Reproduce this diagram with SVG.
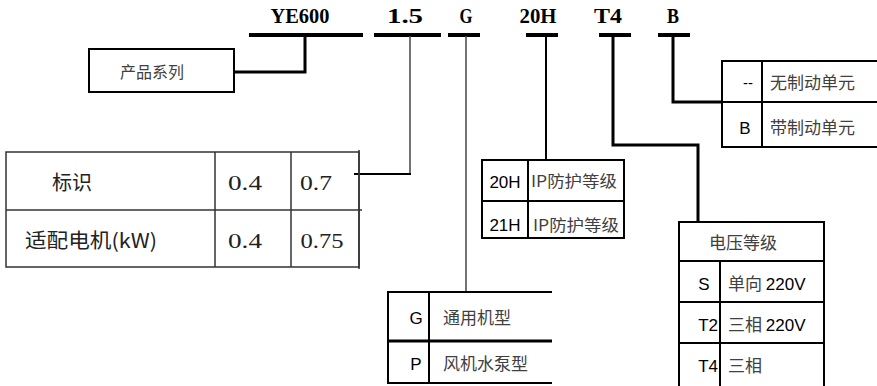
<svg xmlns="http://www.w3.org/2000/svg" width="877" height="386" viewBox="0 0 877 386">
<style>
.hdr{font-family:"Liberation Serif","Noto Sans CJK SC",serif;font-size:22px;font-weight:bold;fill:#000;text-anchor:middle}
.bar{stroke:#000;stroke-width:4;fill:none}
.thick{stroke:#000;stroke-width:3;fill:none}
.mid{stroke:#000;stroke-width:2;fill:none}
.thin{stroke:#444;stroke-width:1.5;fill:none}
.tb{stroke:#000;stroke-width:2;fill:none}
.tl{stroke:#333;stroke-width:1.5;fill:none}
.cn{font-family:"Noto Sans CJK SC",sans-serif;font-size:16px;fill:#404040}
.cn17{font-family:"Noto Sans CJK SC",sans-serif;font-size:17px;fill:#404040}
.cnl{font-family:"Noto Sans CJK SC",sans-serif;font-size:20px;fill:#222}
.num{font-family:"Liberation Serif",serif;font-size:21px;fill:#222;text-anchor:middle}
.lat{font-family:"Liberation Sans","Noto Sans",sans-serif;font-size:15px;fill:#000}
.lat17{font-family:"Liberation Sans","Noto Sans",sans-serif;font-size:17px;fill:#000}
</style>
<g id="header">
<text class="hdr" x="300" y="23" textLength="59" lengthAdjust="spacingAndGlyphs">YE600</text>
<text class="hdr" x="405" y="23" textLength="36" lengthAdjust="spacingAndGlyphs">1.5</text>
<text class="hdr" x="466" y="23" textLength="13" lengthAdjust="spacingAndGlyphs">G</text>
<text class="hdr" x="538" y="23" textLength="37" lengthAdjust="spacingAndGlyphs">20H</text>
<text class="hdr" x="608" y="23" textLength="28" lengthAdjust="spacingAndGlyphs">T4</text>
<text class="hdr" x="673" y="23" textLength="12" lengthAdjust="spacingAndGlyphs">B</text>
<line class="bar" x1="249" y1="35" x2="363" y2="35"/>
<line class="bar" x1="374" y1="35" x2="441" y2="35"/>
<line class="bar" x1="448" y1="35" x2="480" y2="35"/>
<line class="bar" x1="526" y1="35" x2="558" y2="35"/>
<line class="bar" x1="599" y1="35" x2="631" y2="35"/>
<line class="bar" x1="658" y1="35" x2="690" y2="35"/>
</g>
<g id="connectors">
<polyline class="thick" points="234,72 305,72 305,36"/>
<polyline class="thin" points="410,36 410,174"/>
<line class="mid" x1="354" y1="174" x2="411" y2="174"/>
<line class="thin" x1="466" y1="36" x2="466" y2="292"/>
<line class="mid" x1="546" y1="36" x2="546" y2="160"/>
<polyline class="thick" points="613,36 613,145 698,145 698,222"/>
<polyline class="thick" points="673,36 673,102 722,102"/>
</g>
<g id="series">
<rect class="tb" x="89" y="49" width="145" height="43"/>
<text class="cn" x="152" y="78" text-anchor="middle">产品系列</text>
</g>
<g id="power-table">
<rect class="tl" x="6" y="152" width="353" height="115"/>
<line class="tl" x1="6" y1="210" x2="362" y2="210"/>
<line class="tl" x1="215" y1="152" x2="215" y2="267"/>
<line class="tl" x1="291" y1="152" x2="291" y2="267"/>
<line class="tl" x1="359" y1="150" x2="359" y2="269"/>
<text class="cnl" x="72" y="190" text-anchor="middle">标识</text>
<text class="num" x="245" y="190" textLength="34" lengthAdjust="spacingAndGlyphs">0.4</text>
<text class="num" x="316" y="190" textLength="32" lengthAdjust="spacingAndGlyphs">0.7</text>
<text class="cnl" x="25" y="248" textLength="132" lengthAdjust="spacingAndGlyphs">适配电机(kW)</text>
<text class="num" x="245" y="248" textLength="34" lengthAdjust="spacingAndGlyphs">0.4</text>
<text class="num" x="322" y="248" textLength="43" lengthAdjust="spacingAndGlyphs">0.75</text>
</g>
<g id="ip-table">
<rect class="tb" x="482" y="160" width="142" height="78"/>
<line class="tb" x1="482" y1="201" x2="624" y2="201"/>
<line class="tb" x1="528" y1="160" x2="528" y2="238"/>
<text class="lat17" x="505" y="188" text-anchor="middle">20H</text>
<text class="cn" x="531" y="187" textLength="86" lengthAdjust="spacingAndGlyphs">IP防护等级</text>
<text class="lat17" x="505" y="231" text-anchor="middle">21H</text>
<text class="cn" x="533" y="231" textLength="86" lengthAdjust="spacingAndGlyphs">IP防护等级</text>
</g>
<g id="brake-table">
<polyline class="tb" points="877,61 722,61 722,147 877,147"/>
<line class="tb" x1="722" y1="102" x2="877" y2="102"/>
<line class="tb" x1="762" y1="61" x2="762" y2="147"/>
<text class="lat" x="748" y="88" text-anchor="middle">--</text>
<text class="cn17" x="770" y="89">无制动单元</text>
<text class="lat17" x="745" y="134" text-anchor="middle">B</text>
<text class="cn17" x="770" y="134">带制动单元</text>
</g>
<g id="voltage-table">
<polyline class="tb" points="679,386 679,222 824,222 824,386"/>
<line class="tb" x1="679" y1="261" x2="824" y2="261"/>
<line class="tb" x1="679" y1="302" x2="824" y2="302"/>
<line class="tb" x1="679" y1="343" x2="824" y2="343"/>
<line class="tb" x1="720" y1="261" x2="720" y2="386"/>
<text class="cn17" x="743" y="249" text-anchor="middle">电压等级</text>
<text class="lat17" x="704" y="290" text-anchor="middle">S</text>
<text class="cn17" x="728" y="290">单向 <tspan class="lat17">220V</tspan></text>
<text class="lat17" x="718" y="331" text-anchor="end">T2</text>
<text class="cn17" x="728" y="331">三相 <tspan class="lat17">220V</tspan></text>
<text class="lat17" x="718" y="372" text-anchor="end">T4</text>
<text class="cn17" x="728" y="372">三相</text>
</g>
<g id="type-table">
<polyline class="tb" points="552,292 388,292 388,383 552,383"/>
<line class="thick" x1="388" y1="341" x2="552" y2="341"/>
<line class="tb" x1="429" y1="292" x2="429" y2="383"/>
<text class="lat17" x="416" y="324" text-anchor="middle">G</text>
<text class="cn17" x="443" y="324">通用机型</text>
<text class="lat17" x="416" y="370" text-anchor="middle">P</text>
<text class="cn17" x="443" y="370">风机水泵型</text>
</g>
</svg>
